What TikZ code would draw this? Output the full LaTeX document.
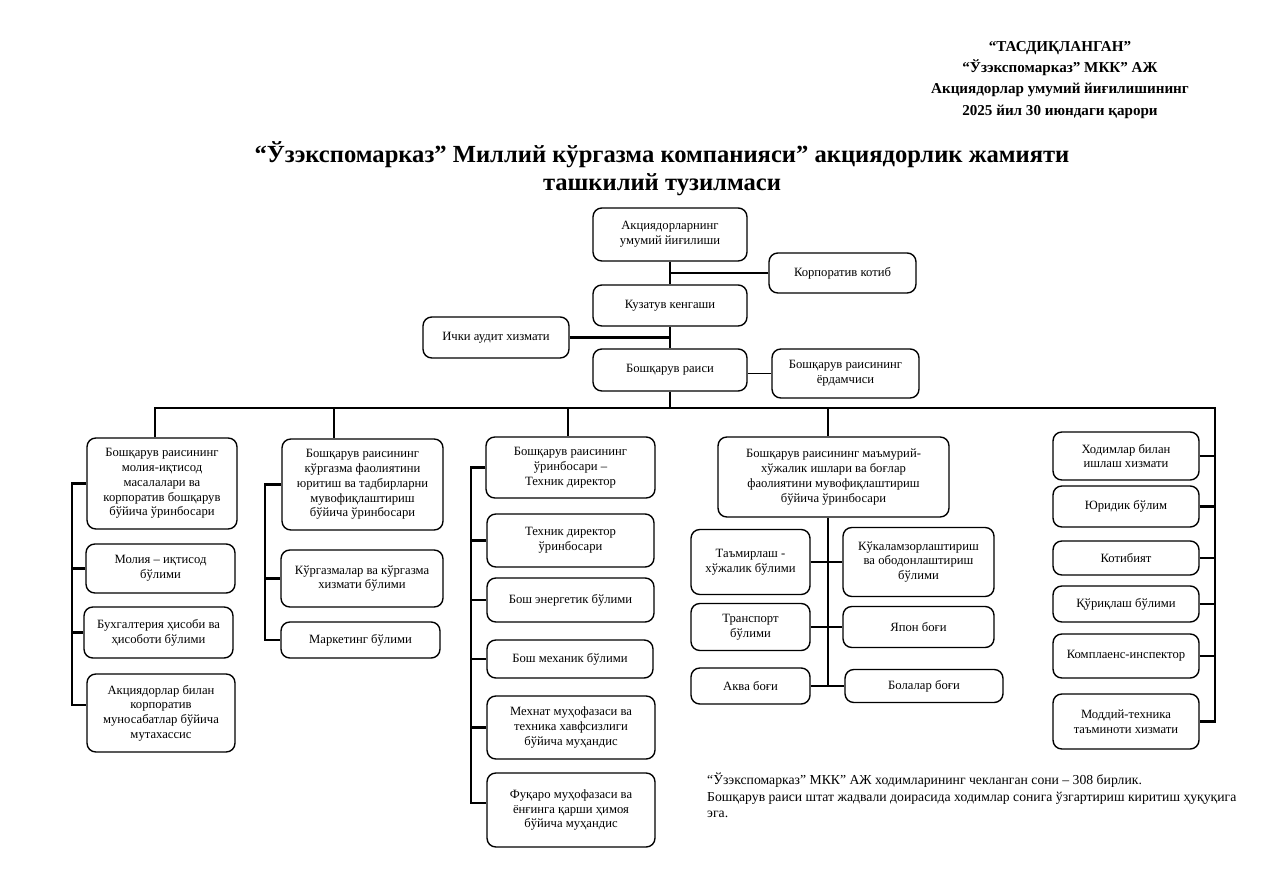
\documentclass[tikz,border=0pt]{standalone}
\usepackage{fontspec}
\setmainfont{Liberation Serif}
\usepackage{xcolor}
\usetikzlibrary{positioning,calc}
\definecolor{ink}{HTML}{000000}
\newcommand{\boxfont}{\fontsize{7.2}{8.4}\selectfont}

\begin{document}
\begin{tikzpicture}[x=0.02cm, y=-0.02cm, font=\boxfont,
    unit/.style={draw=ink, line width=0.8pt, rounded corners=5pt, align=center, inner sep=1pt},
    sz/.style 2 args={minimum width=#1*0.2mm, minimum height=#2*0.2mm},
    link/.style={draw=ink, line width=1.5pt},
    thinlink/.style={draw=ink, line width=0.7pt}]
    \useasboundingbox (0,0) rectangle (1265,888);

    % heading
    \node[font=\bfseries\fontsize{8.6}{12}\selectfont, align=center] (approval) at (1060,80)
      {“ТАСДИҚЛАНГАН”\\“Ўзэкспомарказ” МКК” АЖ\\Акциядорлар умумий йиғилишининг\\2025 йил 30 июндаги қарори};
    \node[font=\bfseries\fontsize{14}{16}\selectfont, align=center] (title) at (662,169)
      {“Ўзэкспомарказ” Миллий кўргазма компанияси” акциядорлик жамияти\\ташкилий тузилмаси};

    % top of the chart
    \node[unit, sz={154}{53}] (gm) at (670,234.5) {Акциядорларнинг\\умумий йиғилиши};
    \node[unit, sz={147}{40}] (kk) at (842.5,273) {Корпоратив котиб};
    \node[unit, sz={154}{41}] (kz) at (670,305.5) {Кузатув кенгаши};
    \node[unit, sz={146}{41}] (ia) at (496,337.5) {Ички аудит хизмати};
    \node[unit, sz={154}{42}] (br) at (670,370) {Бошқарув раиси};
    \node[unit, sz={147}{49}] (ey) at (845.5,373.5) {Бошқарув раисининг\\ёрдамчиси};

    % column 1
    \node[unit, sz={150}{91}] (c1) at (162,483.5) {Бошқарув раисининг\\молия-иқтисод\\масалалари ва\\корпоратив бошқарув\\бўйича ўринбосари};
    \node[unit, sz={149}{49}] (c1a) at (160.5,568.5) {Молия – иқтисод\\бўлими};
    \node[unit, sz={149}{51}] (c1b) at (158.5,632.5) {Бухгалтерия ҳисоби ва\\ҳисоботи бўлими};
    \node[unit, sz={148}{78}] (c1c) at (161,713) {Акциядорлар билан\\корпоратив\\муносабатлар бўйича\\мутахассис};

    % column 2
    \node[unit, sz={161}{91}] (c2) at (362.5,484.5) {Бошқарув раисининг\\кўргазма фаолиятини\\юритиш ва тадбирларни\\мувофиқлаштириш\\бўйича ўринбосари};
    \node[unit, sz={162}{57}] (c2a) at (362,578.5) {Кўргазмалар ва кўргазма\\хизмати бўлими};
    \node[unit, sz={159}{36}] (c2b) at (360.5,640) {Маркетинг бўлими};

    % column 3
    \node[unit, sz={169}{61}] (c3) at (570.5,467.5) {Бошқарув раисининг\\ўринбосари –\\Техник директор};
    \node[unit, sz={167}{53}] (c3a) at (570.5,540.5) {Техник директор\\ўринбосари};
    \node[unit, sz={167}{44}] (c3b) at (570.5,600) {Бош энергетик бўлими};
    \node[unit, sz={166}{38}] (c3c) at (570,659) {Бош механик бўлими};
    \node[unit, sz={168}{63}] (c3d) at (571,727.5) {Мехнат муҳофазаси ва\\техника хавфсизлиги\\бўйича муҳандис};
    \node[unit, sz={168}{74}] (c3e) at (571,810) {Фуқаро муҳофазаси ва\\ёнғинга қарши ҳимоя\\бўйича муҳандис};

    % column 4
    \node[unit, sz={231}{80}] (c4) at (833.5,477) {Бошқарув раисининг маъмурий-\\хўжалик ишлари ва боғлар\\фаолиятини мувофиқлаштириш\\бўйича ўринбосари};
    \node[unit, sz={119}{65}] (c4a) at (750.5,562) {Таъмирлаш -\\хўжалик бўлими};
    \node[unit, sz={119}{47}] (c4b) at (750.5,627) {Транспорт\\бўлими};
    \node[unit, sz={119}{36}] (c4c) at (750.5,686) {Аква боғи};
    \node[unit, sz={151}{69}] (c4d) at (918.5,562) {Кўкаламзорлаштириш\\ва ободонлаштириш\\бўлими};
    \node[unit, sz={151}{41}] (c4e) at (918.5,627) {Япон боғи};
    \node[unit, sz={158}{33}] (c4f) at (924,686) {Болалар боғи};

    % column 5
    \node[unit, sz={146}{48}] (c5a) at (1126,456) {Ходимлар билан\\ишлаш хизмати};
    \node[unit, sz={146}{41}] (c5b) at (1126,506.5) {Юридик бўлим};
    \node[unit, sz={146}{34}] (c5c) at (1126,558) {Котибият};
    \node[unit, sz={146}{36}] (c5d) at (1126,604) {Қўриқлаш бўлими};
    \node[unit, sz={146}{44}] (c5e) at (1126,656) {Комплаенс-инспектор};
    \node[unit, sz={146}{55}] (c5f) at (1126,721.5) {Моддий-техника\\таъминоти хизмати};

    % footnote
    \node[anchor=north west, align=left, font=\fontsize{7.8}{9.4}\selectfont] (note) at (701,767)
      {“Ўзэкспомарказ” МКК” АЖ ходимларининг чекланган сони – 308 бирлик.\\Бошқарув раиси штат жадвали доирасида ходимлар сонига ўзгартириш киритиш ҳуқуқига\\эга.};

    % spine
    \coordinate (busL) at (155,408);
    \coordinate (busR) at (1215,408);
    \coordinate (d2) at (334,408);
    \coordinate (d3) at (568,408);
    \coordinate (d4) at (828,408);
    \draw[link] (gm.south) -- (kz.north);
    \draw[link] (kz.south) -- (br.north);
    \draw[link] (kk.west) -- (kk.west -| gm.south);
    \draw[link] (ia.east) -- (ia.east -| kz.south);
    \draw[thinlink] (ey.west) -- (ey.west -| br.east);
    \draw[link] (br.south) -- (br.south |- busL);
    \draw[link] (busL |- c1.north) -- (busL) -- (busR) |- (c5f.east);
    \draw[link] (d2) -- (d2 |- c2.north);
    \draw[link] (d3) -- (d3 |- c3.north);
    \draw[link] (d4) -- (d4 |- c4.north);

    % column rails
    \coordinate (rail1) at (72,0);
    \draw[link] (c1.west) -- (c1.west -| rail1) -- ([yshift=4.5pt]c1c.west -| rail1) -- ([yshift=4.5pt]c1c.west);
    \foreach \b in {c1a,c1b} \draw[link] (\b.west -| rail1) -- (\b.west);
    \coordinate (rail2) at (265,0);
    \draw[link] (c2.west) -- (c2.west -| rail2) |- (c2b.west);
    \draw[link] (c2a.west -| rail2) -- (c2a.west);
    \coordinate (rail3) at (471,0);
    \draw[link] (c3.west) -- (c3.west -| rail3) -- ([yshift=4pt]c3e.west -| rail3) -- ([yshift=4pt]c3e.west);
    \foreach \b in {c3a,c3b,c3c,c3d} \draw[link] (\b.west -| rail3) -- (\b.west);
    \draw[link] (d4 |- c4.south) -- (d4 |- c4c.east);
    \draw[link] (c4a.east) -- (c4d.west);
    \draw[link] (c4b.east) -- (c4e.west);
    \draw[link] (c4c.east) -- (c4f.west);
    \foreach \b in {c5a,c5b,c5c,c5d,c5e} \draw[link] (\b.east) -- (\b.east -| busR);
  \end{tikzpicture}
\end{document}
